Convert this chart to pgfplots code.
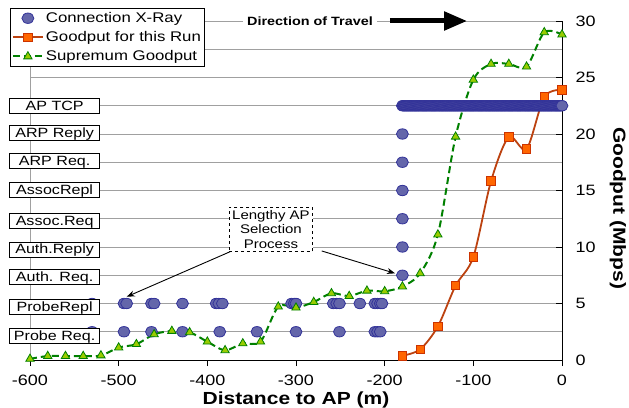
\documentclass[border=0pt]{standalone}
\usepackage{pgfplots}
\pgfplotsset{compat=1.18}
\usepackage{fontspec}
\setmainfont{Liberation Sans}[FakeStretch=1.2]
\usetikzlibrary{arrows.meta}
\definecolor{xray}{HTML}{6466AA}
\definecolor{xrayd}{HTML}{333399}
\definecolor{orangef}{HTML}{FF6600}
\definecolor{oranged}{HTML}{CC3300}
\definecolor{orangel}{HTML}{BC4210}
\definecolor{greenl}{HTML}{008000}
\definecolor{greenf}{HTML}{99CC00}
\definecolor{gridg}{HTML}{A0A0A0}
\begin{document}
\begin{tikzpicture}
\path[use as bounding box] (-30bp,-48bp) rectangle (599bp,360bp);
\begin{axis}[
  at={(0,0)}, anchor=south west,
  width=532bp, height=339bp, scale only axis,
  xmin=-600, xmax=0, ymin=0, ymax=30,
  clip=false,
  axis x line*=bottom, axis y line*=right,
  axis line style={black, line width=0.9bp, -},
  xtick={-600,-500,...,0}, ytick={0,5,...,30},
  minor ytick={2.5,7.5,...,27.5},
  ymajorgrids, yminorgrids,
  major grid style={gridg, line width=0.9bp},
  minor grid style={gridg, line width=0.9bp},
  xtick align=outside, ytick align=inside,
  major tick length=6bp, minor tick length=0bp,
  tick style={black, line width=0.8bp},
  scaled ticks=false,
  /pgf/number format/assume math mode=true,
  tick label style={font=\fontsize{15bp}{18bp}\selectfont},
  xticklabel style={yshift=-6bp},
  yticklabel style={anchor=west, xshift=10bp},
  xlabel={\bfseries Distance to AP (m)},
  xlabel style={at={(axis description cs:0.5,-0.118)}, anchor=center, font=\fontsize{17.5bp}{20bp}\selectfont},
  ylabel={\bfseries Goodput (Mbps)},
  ylabel style={at={(axis description cs:1.105,0.448)}, anchor=center, rotate=180, font=\fontsize{17.5bp}{20bp}\selectfont},
  legend style={at={(-0.0376,1.0383)}, anchor=north west, draw=black, line width=0.8bp, fill=white,
    font=\fontsize{14bp}{16bp}\selectfont, inner xsep=1.5bp, inner ysep=2bp, row sep=3.5bp},
  legend cell align=left,
  legend image code/.code={\draw[mark repeat=2,mark phase=2,#1] plot coordinates {(0bp,0bp) (15bp,0bp) (30bp,0bp)};},
  xray/.style={only marks, mark=*, mark size=5.2bp, mark options={fill=xray, draw=xrayd, line width=0.8bp, xscale=1.15}},
]
\draw[gridg, line width=0.9bp] (rel axis cs:0,0) -- (rel axis cs:0,1);

\addplot[xray] coordinates {
 (-530,2.5) (-494,2.5) (-463,2.5) (-428,2.5) (-386,2.5) (-344,2.5) (-300,2.5) (-251,2.5) (-211,2.5) (-208,2.5) (-205,2.5)
 (-530,5) (-494,5) (-491,5) (-463,5) (-460,5) (-428,5) (-390,5) (-387,5) (-383,5) (-305,5) (-302,5) (-300,5)
 (-258,5) (-254,5) (-251,5) (-228,5) (-211,5) (-208,5) (-205,5) (-203,5)
 (-180,7.5) (-180,10) (-180,12.5) (-180,15) (-180,17.5) (-180,20)
};
\addlegendentry{Connection X-Ray}

\addplot[color=orangel, line width=1.8bp, smooth, mark=square*, mark size=4.2bp,
  mark options={fill=orangef, draw=oranged, line width=0.8bp}] coordinates {
 (-180,0.38) (-160,0.94) (-140,2.98) (-120,6.58) (-100,9.12) (-80,15.84) (-60,19.73) (-40,18.67) (-20,23.27) (0,23.9)
};
\addlegendentry{Goodput for this Run}

\addplot[xray, forget plot] coordinates {
 (-180,22.5)(-179,22.5)(-178,22.5)(-177,22.5)(-176,22.5)(-175,22.5)(-174,22.5)(-173,22.5)(-172,22.5)(-171,22.5)
 (-170,22.5)(-169,22.5)(-168,22.5)(-167,22.5)(-166,22.5)(-165,22.5)(-164,22.5)(-163,22.5)(-162,22.5)(-161,22.5)
 (-160,22.5)(-159,22.5)(-158,22.5)(-157,22.5)(-156,22.5)(-155,22.5)(-154,22.5)(-153,22.5)(-152,22.5)(-151,22.5)
 (-150,22.5)(-149,22.5)(-148,22.5)(-147,22.5)(-146,22.5)(-145,22.5)(-144,22.5)(-143,22.5)(-142,22.5)(-141,22.5)
 (-140,22.5)(-139,22.5)(-138,22.5)(-137,22.5)(-136,22.5)(-135,22.5)(-134,22.5)(-133,22.5)(-132,22.5)(-131,22.5)
 (-130,22.5)(-129,22.5)(-128,22.5)(-127,22.5)(-126,22.5)(-125,22.5)(-124,22.5)(-123,22.5)(-122,22.5)(-121,22.5)
 (-120,22.5)(-119,22.5)(-118,22.5)(-117,22.5)(-116,22.5)(-115,22.5)(-114,22.5)(-113,22.5)(-112,22.5)(-111,22.5)
 (-110,22.5)(-109,22.5)(-108,22.5)(-107,22.5)(-106,22.5)(-105,22.5)(-104,22.5)(-103,22.5)(-102,22.5)(-101,22.5)
 (-100,22.5)(-99,22.5)(-98,22.5)(-97,22.5)(-96,22.5)(-95,22.5)(-94,22.5)(-93,22.5)(-92,22.5)(-91,22.5)
 (-90,22.5)(-89,22.5)(-88,22.5)(-87,22.5)(-86,22.5)(-85,22.5)(-84,22.5)(-83,22.5)(-82,22.5)(-81,22.5)
 (-80,22.5)(-79,22.5)(-78,22.5)(-77,22.5)(-76,22.5)(-75,22.5)(-74,22.5)(-73,22.5)(-72,22.5)(-71,22.5)
 (-70,22.5)(-69,22.5)(-68,22.5)(-67,22.5)(-66,22.5)(-65,22.5)(-64,22.5)(-63,22.5)(-62,22.5)(-61,22.5)
 (-60,22.5)(-59,22.5)(-58,22.5)(-57,22.5)(-56,22.5)(-55,22.5)(-54,22.5)(-53,22.5)(-52,22.5)(-51,22.5)
 (-50,22.5)(-49,22.5)(-48,22.5)(-47,22.5)(-46,22.5)(-45,22.5)(-44,22.5)(-43,22.5)(-42,22.5)(-41,22.5)
 (-40,22.5)(-39,22.5)(-38,22.5)(-37,22.5)(-36,22.5)(-35,22.5)(-34,22.5)(-33,22.5)(-32,22.5)(-31,22.5)
 (-30,22.5)(-29,22.5)(-28,22.5)(-27,22.5)(-26,22.5)(-25,22.5)(-24,22.5)(-23,22.5)(-22,22.5)(-21,22.5)
 (-20,22.5)(-19,22.5)(-18,22.5)(-17,22.5)(-16,22.5)(-15,22.5)(-14,22.5)(-13,22.5)(-12,22.5)(-11,22.5)
 (-10,22.5)(-9,22.5)(-8,22.5)(-7,22.5)(-6,22.5)(-5,22.5)(-4,22.5)(-3,22.5)(-2,22.5)(-1,22.5)
 (0,22.5)
};

\addplot[color=greenl, line width=2bp, dash pattern=on 7bp off 4bp, smooth, mark=triangle*, mark size=4.8bp,
  mark options={solid, fill=greenf, draw=greenl, line width=0.8bp}] coordinates {
 (-600,0.1) (-580,0.35) (-560,0.35) (-540,0.35) (-520,0.4) (-500,1.1) (-480,1.4) (-460,2.27) (-440,2.57)
 (-420,2.45) (-400,1.62) (-380,0.86) (-360,1.47) (-340,1.62) (-320,4.72) (-300,4.63) (-280,5.13) (-260,5.9)
 (-240,5.66) (-220,6.13) (-200,6.08) (-180,6.5) (-160,7.67) (-140,11.1) (-120,19.76) (-100,24.8) (-80,26.2)
 (-60,26.2) (-40,25.96) (-20,29.0) (0,28.8)
};
\addlegendentry{Supremum Goodput}

\coordinate (c1) at (axis cs:-521,22.52);
\coordinate (c2) at (axis cs:-521,20.13);
\coordinate (c3) at (axis cs:-521,17.63);
\coordinate (c4) at (axis cs:-521,15.04);
\coordinate (c5) at (axis cs:-521,12.3);
\coordinate (c6) at (axis cs:-521,9.78);
\coordinate (c7) at (axis cs:-521,7.35);
\coordinate (c8) at (axis cs:-521,4.69);
\coordinate (c9) at (axis cs:-521,2.12);

\node[draw=black, dashed, fill=white, line width=0.6bp, align=center, inner sep=3bp,
  font=\fontsize{12.5bp}{14.5bp}\selectfont] at (axis cs:-328.2,11.55) {Lengthy AP\\Selection\\Process};
\draw[-{Stealth[length=8bp,width=6bp]}, line width=0.9bp] (axis cs:-374.4,9.58) -- (axis cs:-490.9,5.6);
\draw[-{Stealth[length=8bp,width=6bp]}, line width=0.9bp] (axis cs:-271,9.65) -- (axis cs:-188.3,7.67);

\node[fill=white, inner xsep=4bp, inner ysep=1bp, font=\bfseries\fontsize{12bp}{14bp}\selectfont] at (axis cs:-284.2,30) {Direction of Travel};
\draw[line width=5bp, -{Triangle[length=23bp,width=18bp]}] (axis cs:-194,30) -- (axis cs:-107,30);
\end{axis}
\tikzset{catbox/.style={draw=black, fill=white, line width=0.8bp, minimum width=90bp, inner xsep=0bp,
  inner ysep=1.5bp, text height=10.5bp, text depth=1.5bp, anchor=east, font=\fontsize{13.4bp}{16bp}\selectfont}}
\node[catbox] at (c1) {AP TCP};
\node[catbox] at (c2) {ARP Reply};
\node[catbox] at (c3) {ARP Req.};
\node[catbox] at (c4) {AssocRepl};
\node[catbox] at (c5) {Assoc.Req};
\node[catbox] at (c6) {Auth.Reply};
\node[catbox] at (c7) {Auth. Req.};
\node[catbox] at (c8) {ProbeRepl};
\node[catbox] at (c9) {Probe Req.};
\end{tikzpicture}
\end{document}
